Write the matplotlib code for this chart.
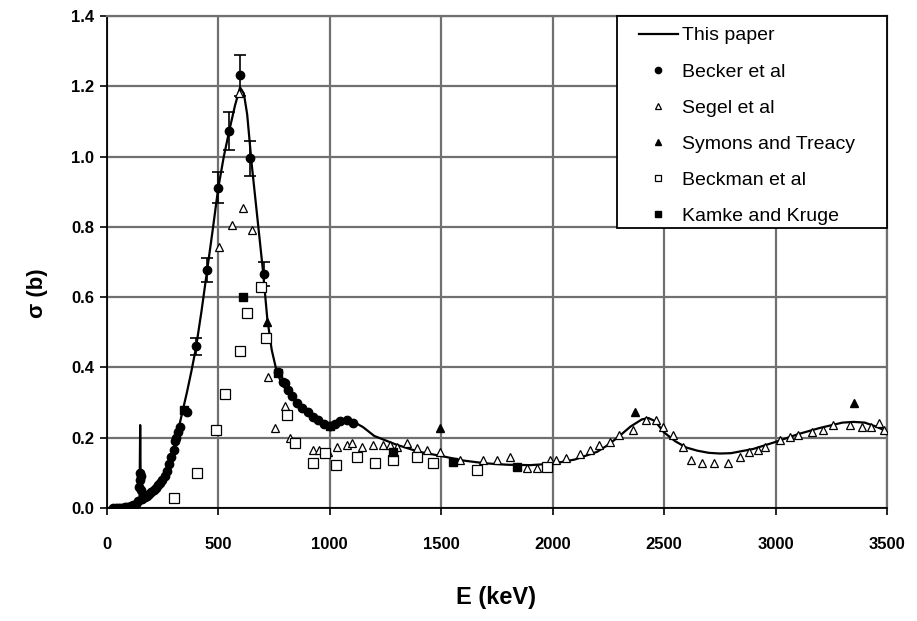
import matplotlib
matplotlib.use('Agg')
import matplotlib.pyplot as plt
from matplotlib.patches import Rectangle
import numpy as np

plt.rcParams['font.family'] = ['Liberation Sans', 'DejaVu Sans']

# model curve ("This paper")
curve_E = [0, 50, 100, 120, 140, 147, 150, 153, 160, 180, 200, 220, 240, 260, 280, 300,
           320, 340, 360, 380, 400, 425, 450, 475, 500, 525, 550, 575, 598, 615, 630,
           650, 670, 690, 700, 710, 720, 740, 760, 780, 800, 850, 900, 950, 1000, 1050,
           1080, 1100, 1150, 1200, 1300, 1400, 1500, 1600, 1700, 1800, 1900, 2000, 2100,
           2200, 2250, 2300, 2350, 2400, 2430, 2460, 2500, 2550, 2600, 2650, 2700, 2750,
           2800, 2900, 3000, 3100, 3200, 3300, 3350, 3400, 3450, 3500, 3525]
curve_sigma = [0, 0, 0.002, 0.005, 0.012, 0.02, 0.236, 0.02, 0.025, 0.032, 0.042, 0.055,
               0.07, 0.09, 0.12, 0.165, 0.22, 0.275, 0.33, 0.39, 0.455, 0.56, 0.675, 0.79,
               0.91, 1.0, 1.075, 1.145, 1.197, 1.18, 1.12, 0.98, 0.86, 0.74, 0.68, 0.61,
               0.54, 0.45, 0.395, 0.36, 0.34, 0.3, 0.27, 0.245, 0.235, 0.245, 0.25, 0.248,
               0.23, 0.205, 0.18, 0.16, 0.148, 0.135, 0.127, 0.123, 0.122, 0.126, 0.138,
               0.16, 0.18, 0.205, 0.232, 0.252, 0.256, 0.247, 0.215, 0.19, 0.172, 0.163,
               0.157, 0.155, 0.156, 0.168, 0.188, 0.21, 0.228, 0.243, 0.245, 0.243, 0.232,
               0.218, 0.207]

# Becker et al (filled circles, some with error bars)
becker_E = [30, 40, 50, 60, 70, 80, 90, 100, 110, 120, 130, 140, 145, 148, 150, 152, 155,
            160, 170, 180, 190, 200, 210, 220, 230, 240, 250, 260, 270, 280, 290, 300,
            306, 312, 320, 328, 360, 401, 450, 500, 550, 598, 644, 706, 768, 790, 800,
            815, 830, 852, 875, 904, 925, 948, 975, 1000, 1025, 1046, 1076, 1105]
becker_sigma = [0.0, 0.0, 0.0, 0.0, 0.0, 0.002, 0.003, 0.004, 0.006, 0.008, 0.012, 0.02,
                0.06, 0.08, 0.1, 0.09, 0.05, 0.025, 0.03, 0.035, 0.04, 0.045, 0.05, 0.058,
                0.065, 0.072, 0.08, 0.09, 0.105, 0.125, 0.145, 0.165, 0.19, 0.2, 0.215,
                0.23, 0.273, 0.46, 0.677, 0.912, 1.073, 1.232, 0.996, 0.666, 0.387, 0.36,
                0.355, 0.335, 0.32, 0.3, 0.285, 0.273, 0.26, 0.25, 0.24, 0.233, 0.24,
                0.248, 0.25, 0.242]
becker_err = [0] * 37 + [0.025, 0.035, 0.045, 0.053, 0.058, 0.05, 0.033] + [0] * 16

# Segel et al (open triangles)
segel_E = [504, 562, 593, 612, 651, 724, 756, 800, 822, 927, 950, 993, 1033, 1076, 1100,
           1145, 1195, 1240, 1270, 1300, 1346, 1390, 1435, 1494, 1583, 1687, 1750, 1808,
           1884, 1929, 1990, 2017, 2062, 2122, 2166, 2210, 2256, 2300, 2360, 2420, 2466,
           2493, 2538, 2583, 2622, 2668, 2726, 2786, 2840, 2883, 2920, 2951, 3018, 3063,
           3099, 3162, 3211, 3256, 3332, 3386, 3430, 3466, 3488]
segel_sigma = [0.743, 0.805, 1.18, 0.853, 0.79, 0.373, 0.228, 0.29, 0.2, 0.165, 0.165,
               0.16, 0.174, 0.18, 0.185, 0.174, 0.18, 0.18, 0.18, 0.174, 0.185, 0.171,
               0.165, 0.16, 0.137, 0.137, 0.137, 0.145, 0.114, 0.114, 0.137, 0.137, 0.142,
               0.154, 0.165, 0.18, 0.188, 0.208, 0.222, 0.25, 0.25, 0.23, 0.208, 0.174,
               0.137, 0.128, 0.128, 0.128, 0.145, 0.16, 0.165, 0.174, 0.193, 0.202, 0.208,
               0.216, 0.222, 0.236, 0.236, 0.23, 0.23, 0.242, 0.222]

# Symons and Treacy (filled triangles)
symons_E = [718, 1495, 2368, 3350]
symons_sigma = [0.53, 0.228, 0.273, 0.298]

# Beckman et al (open squares)
beckman_E = [300, 404, 490, 531, 598, 629, 692, 714, 808, 845, 927, 978, 1028, 1122, 1204,
             1285, 1390, 1463, 1660, 1974]
beckman_sigma = [0.028, 0.1, 0.222, 0.324, 0.448, 0.555, 0.628, 0.484, 0.265, 0.185,
                 0.128, 0.156, 0.122, 0.145, 0.128, 0.137, 0.145, 0.128, 0.108, 0.117]

# Kamke and Kruge (filled squares)
kamke_E = [345, 612, 770, 1000, 1285, 1555, 1840]
kamke_sigma = [0.28, 0.6, 0.385, 0.233, 0.16, 0.13, 0.117]

fig = plt.figure(figsize=(9.17, 6.21), dpi=100)
ax = fig.add_axes([0.1164, 0.182, 0.8509, 0.792])

ax.set_axisbelow(True)
ax.grid(True, color='#707070', lw=1.6)

ax.plot(curve_E, curve_sigma, color='black', lw=1.6, label='This paper', zorder=3)

be = np.array(becker_E)
bs = np.array(becker_sigma)
br = np.array(becker_err)
m = br > 0
ax.errorbar(be[m], bs[m], yerr=br[m], fmt='none', ecolor='black', elinewidth=1.2,
            capsize=4, capthick=1.2, zorder=4)
ax.plot(becker_E, becker_sigma, 'o', color='black', ms=6, ls='none',
        label='Becker et al', zorder=5)
ax.plot(segel_E, segel_sigma, '^', mfc='white', mec='black', mew=0.9, ms=6, ls='none',
        label='Segel et al', zorder=4)
ax.plot(symons_E, symons_sigma, '^', color='black', ms=6, ls='none',
        label='Symons and Treacy', zorder=5)
ax.plot(beckman_E, beckman_sigma, 's', mfc='white', mec='black', mew=0.9, ms=6.5,
        ls='none', label='Beckman et al', zorder=4)
ax.plot(kamke_E, kamke_sigma, 's', color='black', ms=6, ls='none',
        label='Kamke and Kruge', zorder=5)

ax.set_xlim(0, 3500)
ax.set_ylim(0, 1.4)
ax.set_xticks(np.arange(0, 3501, 500))
ax.set_yticks(np.arange(0, 1.41, 0.2))
ax.set_yticklabels([f'{v:.1f}' for v in np.arange(0, 1.41, 0.2)])

for s in ['top', 'right']:
    ax.spines[s].set_color('#707070')
    ax.spines[s].set_linewidth(1.6)
for s in ['left', 'bottom']:
    ax.spines[s].set_color('black')
    ax.spines[s].set_linewidth(1.3)

ax.tick_params(axis='x', direction='out', length=5, width=1.2, pad=16, labelsize=12)
ax.tick_params(axis='y', direction='out', length=5, width=1.2, pad=4, labelsize=12)
ax.tick_params(top=False, right=False)
for lab in ax.get_xticklabels() + ax.get_yticklabels():
    lab.set_fontweight('bold')

ax.set_xlabel('E (keV)', fontsize=17, fontweight='bold')
ax.set_ylabel('σ (b)', fontsize=16, fontweight='bold')
ax.xaxis.set_label_coords(0.499, -0.158)
ax.yaxis.set_label_coords(-0.075, 0.437)

# legend frame drawn separately so the handles sit further from the left edge
ax.add_patch(Rectangle((0.654, 0.569), 0.346, 0.431, transform=ax.transAxes,
                       facecolor='white', edgecolor='black', lw=1.3, zorder=6,
                       clip_on=False))
leg = ax.legend(loc='upper left', bbox_to_anchor=(0.671, 0.996), borderaxespad=0,
                frameon=False, fontsize=14, labelspacing=0.95, handlelength=2.0,
                markerscale=0.75, borderpad=0.45, handletextpad=0.2)
leg.set_zorder(7)

fig.savefig('out.png', dpi=100)
